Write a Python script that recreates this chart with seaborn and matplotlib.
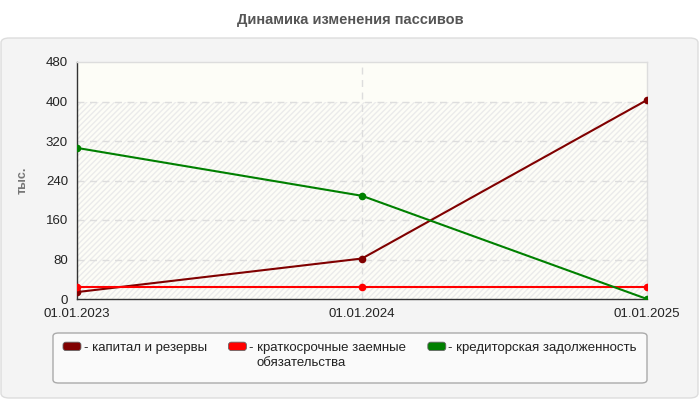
import matplotlib
matplotlib.use("Agg")
import matplotlib.pyplot as plt
import seaborn as sns
import pandas as pd
from matplotlib.patches import FancyBboxPatch, Patch
from matplotlib.legend_handler import HandlerPatch
from matplotlib.text import Annotation

dates = ["01.01.2023", "01.01.2024", "01.01.2025"]
kapital = [14, 82, 403]
kratkosroch = [25, 25, 25]
kreditor = [306, 209, 0]
series_names = ["капитал и резервы", "краткосрочные заемные", "кредиторская задолженность"]
series_second_line = ["", "обязательства", ""]
colors = ["#800000", "#ff0000", "#008000"]
yticks = [0, 80, 160, 240, 320, 400, 480]

sns.set_theme(style="white")
plt.rcParams['font.family'] = ['Liberation Sans', 'DejaVu Sans']

rows = []
for name, vals in zip(series_names, [kapital, kratkosroch, kreditor]):
    for i, (d, v) in enumerate(zip(dates, vals)):
        rows.append({"x": i, "date": d, "value": v, "series": name})
df = pd.DataFrame(rows)

fig = plt.figure(figsize=(7, 4), dpi=100)
fig.patch.set_facecolor("white")
panel = FancyBboxPatch((1/700, 2/400), 697/700, 360/400, boxstyle="round,pad=0,rounding_size=0.012",
                       transform=fig.transFigure, facecolor="#f4f4f4", edgecolor="#dddddd", lw=1, zorder=-2)
fig.patches.append(panel)
lbox = FancyBboxPatch((53/700, 17/400), 594/700, 50/400, boxstyle="round,pad=0,rounding_size=0.008",
                      transform=fig.transFigure, facecolor="#fafafa", edgecolor="#aaaaaa", lw=1, zorder=-1)
fig.patches.append(lbox)

ax = fig.add_axes([77/700, 101/400, 570/700, 237/400])
ax.set_zorder(1)
ax.set_facecolor("#fdfdf7")
ax.fill_between([0, 2], 0, 400, facecolor="none", edgecolor="#ebebeb", hatch="//////", lw=0, zorder=0)

sns.lineplot(data=df, x="x", y="value", hue="series", palette=colors, hue_order=series_names,
             marker="o", markersize=5.5, markeredgewidth=0, linewidth=1.5, ax=ax, legend=False, zorder=3)

ax.set_xlim(0, 2)
ax.set_ylim(0, 480)
ax.set_xticks([0, 1, 2])
ax.set_xticklabels(dates)
ax.set_yticks(yticks)
ax.tick_params(axis="both", labelsize=9.5, labelcolor="#222222", length=5.5, width=1, direction="out", pad=1,
               color="#333333")
for y in yticks[1:-1]:
    ax.axhline(y, color="#dddddd", lw=1, ls=(0, (5, 4)), zorder=1)
ax.axvline(1, color="#dddddd", lw=1, ls=(0, (5, 4)), zorder=1)
for s in ["top", "right"]:
    ax.spines[s].set_color("#dddddd")
    ax.spines[s].set_linewidth(1)
for s in ["left", "bottom"]:
    ax.spines[s].set_color("#333333")
    ax.spines[s].set_linewidth(1)
ax.set_xlabel("")
ax.set_ylabel("тыс.", fontsize=9, color="#777777", fontweight="bold")
ax.yaxis.set_label_coords(-48/570, 0.5)

fig.text(0.5, 380/400, "Динамика изменения пассивов", ha="center", va="center",
         fontsize=10.5, fontweight="bold", color="#555555")


def rounded_handle(legend, orig_handle, xdescent, ydescent, width, height, fontsize):
    return FancyBboxPatch((-xdescent, -ydescent), width, height,
                          boxstyle="round,pad=0,rounding_size=2")


handles = [Patch(facecolor=c, edgecolor="#666666", lw=0.6) for c in colors]
labels = ["- " + n for n in series_names]
leg = fig.legend(handles, labels, loc="upper left", bbox_to_anchor=(63/700, 58/400), ncol=3,
                 frameon=False, fontsize=9.5, handlelength=1.36, handleheight=0.6, handletextpad=0.2,
                 columnspacing=1.65, labelcolor="#222222", borderpad=0, borderaxespad=0,
                 handler_map={Patch: HandlerPatch(patch_func=rounded_handle)})

for txt, extra in zip(leg.get_texts(), series_second_line):
    if extra:
        ann = Annotation(extra, xy=(0, 0), xycoords=txt, xytext=(5.5, -2), textcoords="offset points",
                         ha="left", va="top", fontsize=9.5, color="#222222", annotation_clip=False)
        ann.set_zorder(10)
        fig.add_artist(ann)

fig.savefig("out.png", dpi=100)
